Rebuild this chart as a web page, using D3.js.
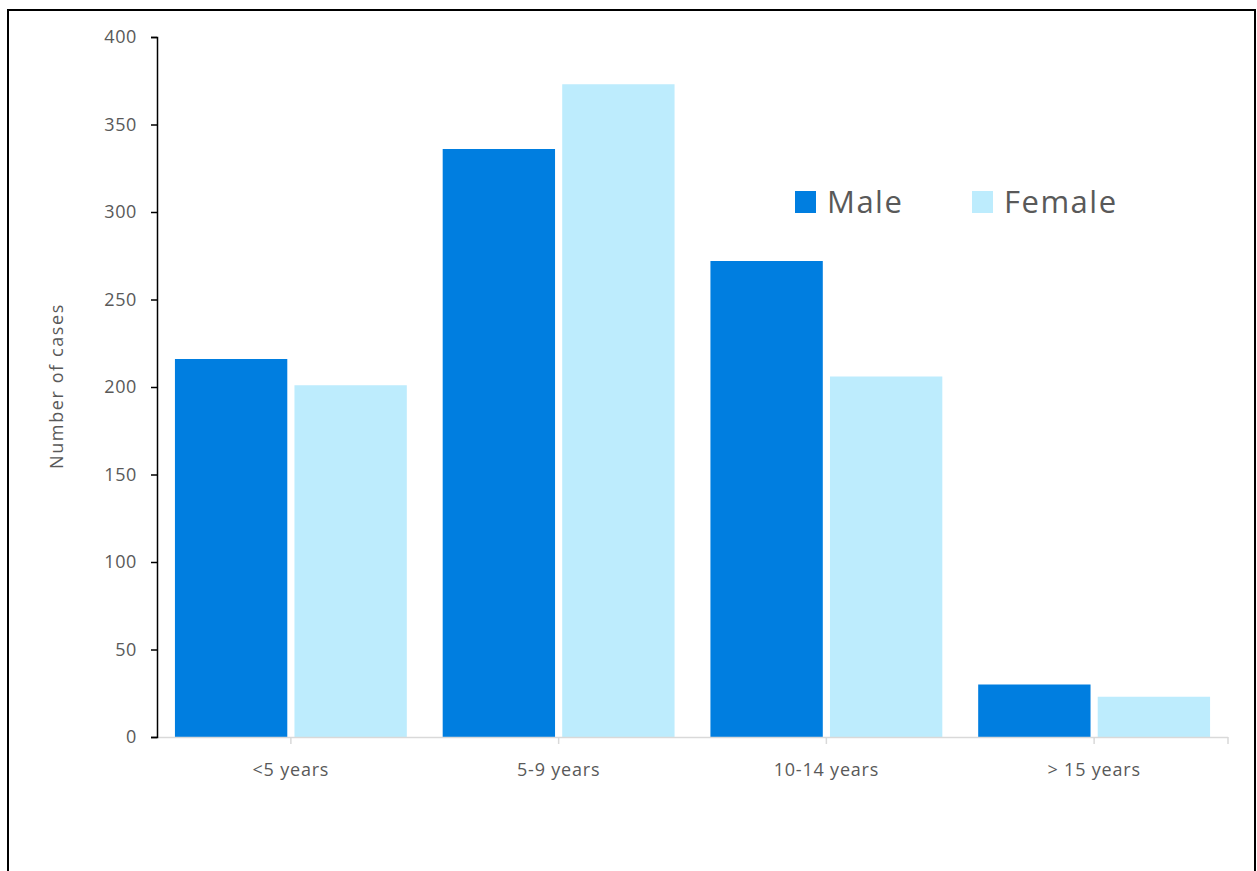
<!DOCTYPE html>
<html>
<head>
<meta charset="utf-8">
<script src="https://cdn.jsdelivr.net/npm/d3@7"></script>
<style>
  body { margin: 0; background: #fff; }
  svg { display: block; font-family: "Open Sans", "Liberation Sans", sans-serif; }
</style>
</head>
<body>
<svg id="chart" width="1257" height="871"></svg>
<script>
const categories = ["<5 years", "5-9 years", "10-14 years", "> 15 years"];
const seriesNames = ["Male", "Female"];
const maleCases = [216, 336, 272, 30];
const femaleCases = [201, 373, 206, 23];
const yTicks = [0, 50, 100, 150, 200, 250, 300, 350, 400];

const colors = { Male: "#007ee0", Female: "#bdecfd" };
const textColor = "#595959";

const rows = categories.map((c, i) => ({ cat: c, Male: maleCases[i], Female: femaleCases[i] }));

const svg = d3.select("#chart");

// outer frame
svg.append("rect")
  .attr("x", 8).attr("y", 10).attr("width", 1247).attr("height", 880)
  .attr("fill", "none").attr("stroke", "#000").attr("stroke-width", 2);

const plotLeft = 157, plotRight = 1228, plotTop = 37, plotBottom = 737;

const x0 = d3.scaleBand().domain(categories).range([plotLeft, plotRight])
  .paddingInner(0.134).paddingOuter(0.067);
const x1 = d3.scaleBand().domain(seriesNames).range([0, x0.bandwidth()])
  .paddingInner(0.06);
const y = d3.scaleLinear().domain([0, 400]).range([plotBottom, plotTop]);

// bars
const groups = svg.append("g").selectAll("g").data(rows).join("g")
  .attr("transform", d => `translate(${x0(d.cat)},0)`);
groups.selectAll("rect")
  .data(d => seriesNames.map(s => ({ key: s, value: d[s] })))
  .join("rect")
  .attr("x", d => x1(d.key))
  .attr("y", d => y(d.value))
  .attr("width", x1.bandwidth())
  .attr("height", d => y(0) - y(d.value))
  .attr("fill", d => colors[d.key]);

// x axis (light grey, ticks under category centres)
const xAxis = svg.append("g").attr("transform", `translate(0,${plotBottom})`);
xAxis.append("line")
  .attr("x1", plotLeft).attr("x2", plotRight).attr("y1", 0.5).attr("y2", 0.5)
  .attr("stroke", "#d9d9d9").attr("stroke-width", 1.5);
const tickXs = categories.map(c => x0(c) + x0.bandwidth() / 2).concat([plotRight]);
xAxis.selectAll(".xt").data(tickXs).join("line")
  .attr("class", "xt")
  .attr("x1", d => d).attr("x2", d => d).attr("y1", 0).attr("y2", 7)
  .attr("stroke", "#d9d9d9").attr("stroke-width", 1.5);
xAxis.selectAll(".xl").data(categories).join("text")
  .attr("class", "xl")
  .attr("x", d => x0(d) + x0.bandwidth() / 2)
  .attr("y", 39)
  .attr("text-anchor", "middle")
  .attr("fill", textColor)
  .style("font-size", "18px")
  .style("letter-spacing", "0.8px")
  .text(d => d);

// y axis
const yAxis = svg.append("g").attr("transform", `translate(${plotLeft},0)`)
  .call(d3.axisLeft(y).tickValues(yTicks).tickSize(6).tickPadding(14));
yAxis.select(".domain").attr("stroke", "#000").attr("stroke-width", 1.5);
yAxis.selectAll(".tick line").attr("stroke", "#000").attr("stroke-width", 1.5);
yAxis.selectAll(".tick text")
  .attr("fill", textColor)
  .style("font-size", "18px")
  .style("letter-spacing", "0.6px")
  .style("font-family", "'Open Sans', sans-serif");

// y axis title
svg.append("text")
  .attr("transform", `translate(63,${(300 + 472) / 2}) rotate(-90)`)
  .attr("text-anchor", "middle")
  .attr("fill", textColor)
  .style("font-size", "18px")
  .style("letter-spacing", "1.6px")
  .text("Number of cases");

// legend
const legendPos = [{ key: "Male", x: 795 }, { key: "Female", x: 972 }];
const legend = svg.append("g").selectAll("g").data(legendPos).join("g")
  .attr("transform", d => `translate(${d.x},191)`);
legend.append("rect")
  .attr("width", 21).attr("height", 22)
  .attr("fill", d => colors[d.key]);
legend.append("text")
  .attr("x", 32).attr("y", 22)
  .attr("fill", textColor)
  .style("font-size", "31px")
  .style("letter-spacing", "1.5px")
  .text(d => d.key);
</script>
</body>
</html>
